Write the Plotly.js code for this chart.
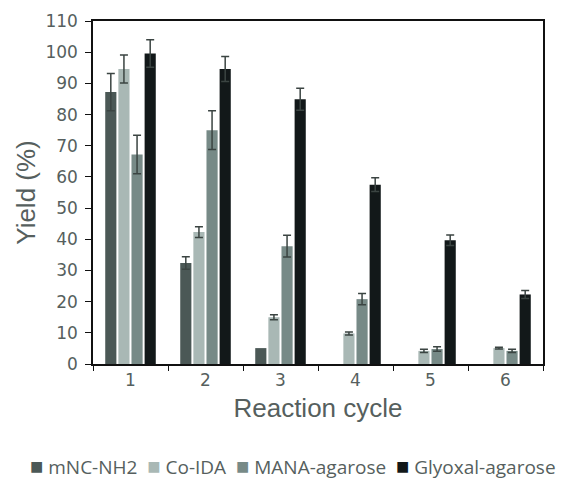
<!DOCTYPE html>
<html><head><meta charset="utf-8">
<script src="https://cdn.plot.ly/plotly-3.0.1.min.js"></script>
<style>html,body{margin:0;padding:0;background:#fff}#chart{width:564px;height:491px}</style>
</head><body><div id="chart"></div>
<script>
const cycles = ['1','2','3','4','5','6'];
const seriesNames = ['mNC-NH2','Co-IDA','MANA-agarose','Glyoxal-agarose'];
const mncValues = [87.2, 32.4, 5.1, 0, 0, 0];
const mncErrors = [6.0, 2.0];
const coidaValues = [94.6, 42.3, 15.0, 9.8, 4.2, 5.1];
const coidaErrors = [4.5, 1.7, 0.8, 0.5, 0.5, 0.3];
const manaValues = [67.2, 75.0, 37.8, 20.8, 4.8, 4.2];
const manaErrors = [6.2, 6.2, 3.5, 1.8, 0.7, 0.5];
const glyValues = [99.6, 94.6, 84.9, 57.5, 39.7, 22.3];
const glyErrors = [4.4, 4.0, 3.5, 2.2, 1.7, 1.3];
const colors = ['#4b5856','#a9b8b5','#778a87','#121819'];

const vals = [mncValues, coidaValues, manaValues, glyValues];
const errs = [mncErrors, coidaErrors, manaErrors, glyErrors];
const traces = seriesNames.map((n,i)=>({
  type:'bar', name:n, x:cycles, y:vals[i],
  marker:{color:colors[i]},
  error_y:{type:'data', array:errs[i], visible:true, color:'#3b4442', thickness:1.5, width:4}
}));

const tickFam = '"DejaVu Sans", sans-serif';
const legFam = '"Open Sans", "Noto Sans", sans-serif';
const titleFam = '"Liberation Sans", Arial, sans-serif';
const txtColor = '#565f5e';
const legendText = seriesNames.map((n,i)=>'<span style="color:'+colors[i]+';font-size:22px">■</span> '+n).join('  ');
const layout = {
  width:564, height:491,
  margin:{l:93, r:21, t:21, b:127},
  paper_bgcolor:'#fff', plot_bgcolor:'#fff',
  barmode:'group', bargap:0.3, bargroupgap:0.15,
  font:{family:tickFam, color:txtColor, size:17},
  showlegend:false,
  xaxis:{type:'category', showline:true, linecolor:'#111', linewidth:1.5, mirror:true,
    ticks:'outside', tickson:'boundaries', ticklen:5, tickcolor:'#111', tickwidth:1.2,
    tickfont:{family:tickFam, size:17, color:txtColor},
    title:{text:'Reaction cycle', font:{family:titleFam, size:26, color:txtColor}, standoff:10}},
  yaxis:{range:[0,110], dtick:10, showline:true, linecolor:'#111', linewidth:1.5, mirror:true,
    ticks:'outside', ticklen:6, tickcolor:'#111', tickwidth:1.2, showgrid:false, zeroline:false,
    ticklabelstandoff:4,
    tickfont:{family:tickFam, size:17, color:txtColor},
    title:{text:'Yield (%)', font:{family:titleFam, size:26, color:txtColor}, standoff:2}},
  annotations:[{text:legendText, xref:'paper', yref:'paper', x:(293-93)/450, y:-(465-364)/343,
    xanchor:'center', yanchor:'middle', showarrow:false,
    font:{family:legFam, size:19, color:txtColor}}]
};
Plotly.newPlot('chart', traces, layout, {displayModeBar:false});
</script></body></html>
